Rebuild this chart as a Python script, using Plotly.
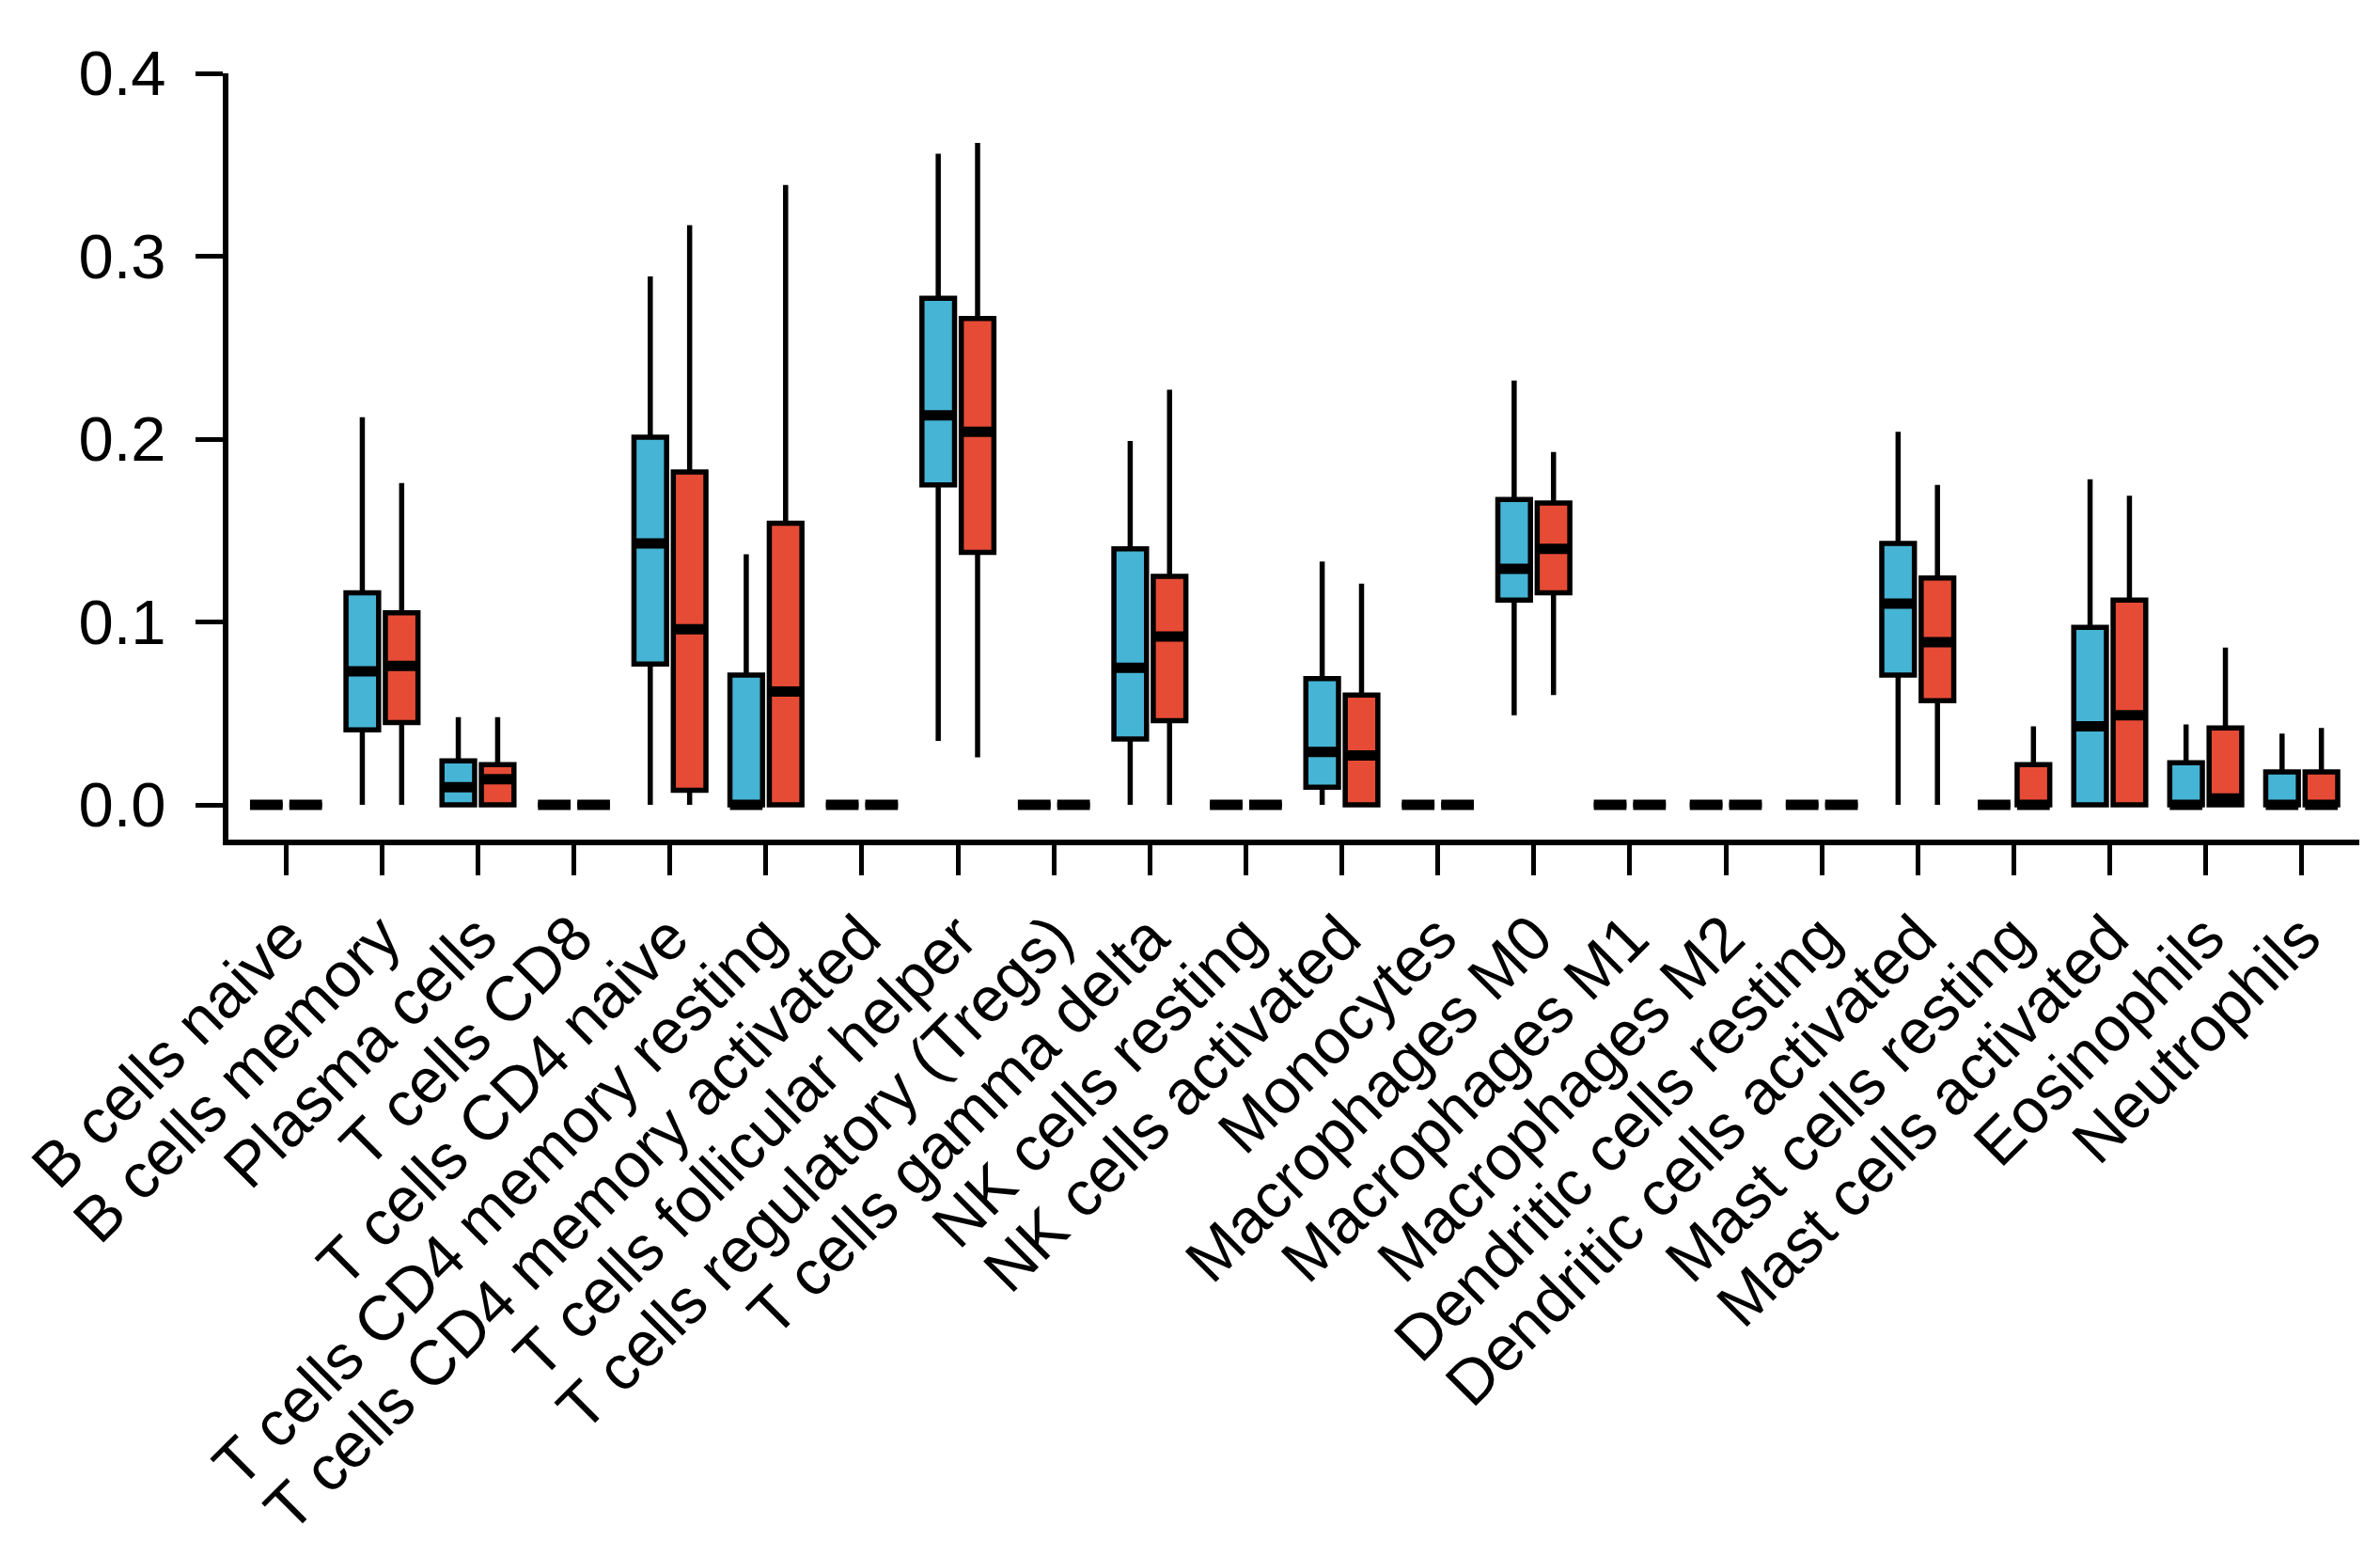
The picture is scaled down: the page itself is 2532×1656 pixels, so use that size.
import plotly.graph_objects as go

categories = ["B cells naive", "B cells memory", "Plasma cells", "T cells CD8",
              "T cells CD4 naive", "T cells CD4 memory resting",
              "T cells CD4 memory activated", "T cells follicular helper",
              "T cells regulatory (Tregs)", "T cells gamma delta",
              "NK cells resting", "NK cells activated", "Monocytes",
              "Macrophages M0", "Macrophages M1", "Macrophages M2",
              "Dendritic cells resting", "Dendritic cells activated",
              "Mast cells resting", "Mast cells activated", "Eosinophils",
              "Neutrophils"]

# group 1 (blue)
blue_low = [0, 0, 0, 0, 0, 0, 0, 0.035, 0, 0, 0, 0, 0, 0.049, 0, 0, 0, 0, 0, 0, 0, 0]
blue_q1 = [0, 0.041, 0, 0, 0.077, 0, 0, 0.175, 0, 0.036, 0, 0.0097, 0, 0.112, 0, 0, 0, 0.071, 0, 0, 0, 0]
blue_med = [0, 0.073, 0.0097, 0, 0.143, 0, 0, 0.213, 0, 0.075, 0, 0.029, 0, 0.129, 0, 0, 0, 0.110, 0, 0.043, 0, 0]
blue_q3 = [0, 0.116, 0.024, 0, 0.201, 0.071, 0, 0.277, 0, 0.140, 0, 0.069, 0, 0.167, 0, 0, 0, 0.143, 0, 0.097, 0.023, 0.018]
blue_high = [0, 0.212, 0.048, 0, 0.289, 0.137, 0, 0.356, 0, 0.199, 0, 0.133, 0, 0.232, 0, 0, 0, 0.204, 0, 0.178, 0.044, 0.039]

# group 2 (red)
red_low = [0, 0, 0, 0, 0, 0, 0, 0.026, 0, 0, 0, 0, 0, 0.060, 0, 0, 0, 0, 0, 0, 0, 0]
red_q1 = [0, 0.045, 0, 0, 0.008, 0, 0, 0.138, 0, 0.046, 0, 0, 0, 0.116, 0, 0, 0, 0.057, 0, 0, 0, 0]
red_med = [0, 0.076, 0.014, 0, 0.096, 0.062, 0, 0.204, 0, 0.092, 0, 0.027, 0, 0.140, 0, 0, 0, 0.089, 0, 0.049, 0.0035, 0]
red_q3 = [0, 0.105, 0.022, 0, 0.182, 0.154, 0, 0.266, 0, 0.125, 0, 0.060, 0, 0.165, 0, 0, 0, 0.124, 0.022, 0.112, 0.042, 0.018]
red_high = [0, 0.176, 0.048, 0, 0.317, 0.339, 0, 0.362, 0, 0.227, 0, 0.121, 0, 0.193, 0, 0, 0, 0.175, 0.043, 0.169, 0.086, 0.042]

BLUE = "#46B4D4"
RED = "#E64B35"
FONT = "Liberation Sans, Arial, sans-serif"

offset = 0.205
box_w = 0.34
idx = list(range(len(categories)))

fig = go.Figure()

groups = [
    (-offset, BLUE, blue_low, blue_q1, blue_med, blue_q3, blue_high),
    (offset, RED, red_low, red_q1, red_med, red_q3, red_high),
]

for off, col, lo, q1, med, q3, hi in groups:
    pos = [i + off for i in idx]
    fig.add_trace(go.Box(
        x=pos, q1=q1, median=med, q3=q3, lowerfence=lo, upperfence=hi,
        width=box_w, whiskerwidth=0, fillcolor=col,
        line=dict(color="black", width=5.5), boxpoints=False,
        hoverinfo="skip",
    ))
    # thicker median bars, like R's boxplot
    mx, my = [], []
    for p, m in zip(pos, med):
        mx += [p - box_w / 2, p + box_w / 2, None]
        my += [m, m, None]
    fig.add_trace(go.Scatter(x=mx, y=my, mode="lines",
                             line=dict(color="black", width=11),
                             hoverinfo="skip"))

fig.update_layout(
    width=2532, height=1656,
    margin=dict(l=235, r=30, t=70, b=771, pad=0),
    plot_bgcolor="white", paper_bgcolor="white",
    showlegend=False,
    font=dict(family=FONT, color="black", size=67),
)

fig.update_xaxes(
    range=[-0.6, 21.6], tickmode="array", tickvals=idx, ticktext=categories,
    tickangle=-45, ticks="outside", ticklen=32, tickwidth=5, tickcolor="black",
    showline=True, linewidth=6, linecolor="black",
    showgrid=False, zeroline=False,
    tickfont=dict(family=FONT, size=67, color="black"),
)
fig.update_yaxes(
    range=[-0.019, 0.4], tickmode="array",
    tickvals=[0, 0.1, 0.2, 0.3, 0.4],
    ticktext=["0.0", "0.1", "0.2", "0.3", "0.4"],
    ticks="outside", ticklen=29, tickwidth=5, tickcolor="black",
    ticklabelstandoff=18,
    showline=True, linewidth=6, linecolor="black",
    showgrid=False, zeroline=False,
    tickfont=dict(family=FONT, size=67, color="black"),
)

fig.write_html("out.html")
